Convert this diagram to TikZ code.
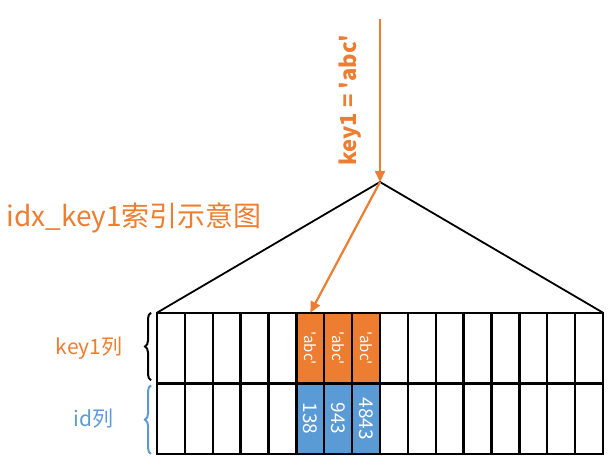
\documentclass[tikz,border=0pt]{standalone}
\usepackage{fontspec}
\setmainfont{Noto Sans CJK SC}
\usepackage{tikz}
\usetikzlibrary{arrows.meta, positioning, decorations.pathreplacing}
\definecolor{keyorange}{HTML}{ED7D31}
\definecolor{idblue}{HTML}{5B9BD5}
\tikzstyle{cell} = [draw=black, line width=2.4pt, rectangle, minimum width=27.875pt, minimum height=70.6pt, inner sep=0pt, outer sep=0pt]
\tikzstyle{keycell} = [cell, fill=keyorange, text=white, font=\fontsize{15}{15}\selectfont]
\tikzstyle{idcell} = [cell, fill=idblue, text=white, font=\fontsize{19}{19}\selectfont]
\tikzstyle{pointer} = [draw=keyorange, line width=2.2pt, -{Triangle[width=10pt,length=11pt]}]
\tikzstyle{bracket} = [decorate, decoration={brace, amplitude=6pt}, line width=2pt]

\begin{document}
\begin{tikzpicture}[x=1pt, y=-1pt]
	\useasboundingbox (0,0) rectangle (615,465);
	% las dos filas del indice
	\foreach \i in {1,...,5,9,10,...,16}{
		\node[cell] (k\i) at ({157+(\i-0.5)*27.875}, 348) {};
		\node[cell] (d\i) at ({157+(\i-0.5)*27.875}, 418.65) {};
	}
	\foreach \i/\n in {6/138, 7/943, 8/4843}{
		\node[keycell] (k\i) at ({157+(\i-0.5)*27.875}, 348) {\rotatebox{-90}{\textquotesingle abc\textquotesingle}};
		\node[idcell] (d\i) at ({157+(\i-0.5)*27.875}, 418.65) {\rotatebox{-90}{\n}};
	}
	\coordinate (top) at (380,19);
	\coordinate (apex) at (380,182);
	\draw[line width=1.8pt] (k1.north west) -- (apex) -- (k16.north east);
	\draw[pointer] (top) -- (apex);
	\draw[pointer] (apex) -- (k6.north);
	\node[rotate=90, text=keyorange, font=\fontsize{22}{22}\selectfont\bfseries] (cond) at (350,100) {key1 = \textquotesingle abc\textquotesingle};
	\node[anchor=west, text=keyorange, font=\fontsize{28}{28}\selectfont] (title) at (3,218) {idx\_key1索引示意图};
	% llaves
	\draw[bracket] ([xshift=-6pt, yshift=3pt]k1.south west) -- ([xshift=-6pt]k1.north west);
	\draw[bracket, draw=idblue] ([xshift=-6pt]d1.south west) -- ([xshift=-6pt, yshift=-2pt]d1.north west);
	\node[text=keyorange, font=\fontsize{21}{21}\selectfont, left=31pt of k1.west] (keylab) {key1列};
	\node[text=idblue, font=\fontsize{21}{21}\selectfont, left=40pt of d1.west] (idlab) {id列};
\end{tikzpicture}
\end{document}
